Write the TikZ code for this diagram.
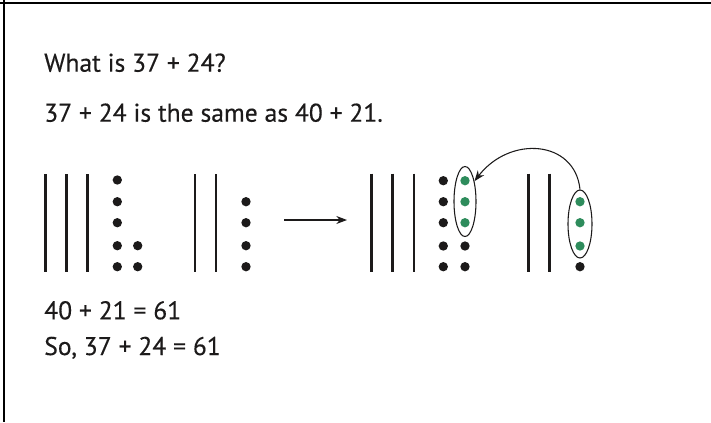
\documentclass[tikz,border=0pt]{standalone}
\usepackage{fontspec}
\setmainfont{PT Sans}[FakeBold=0.35]
\usetikzlibrary{arrows.meta,shapes.geometric}
\definecolor{dotgreen}{RGB}{46,140,92}
\definecolor{ink}{RGB}{28,26,26}
\tikzset{
  txt/.style={anchor=base west, inner sep=0pt, font=\fontsize{19.2}{22}\selectfont, text=ink},
  dotb/.style={circle, fill=ink, inner sep=0pt, minimum size=7pt},
  dotg/.style={circle, fill=dotgreen, inner sep=0pt, minimum size=7pt},
  ten/.style={line width=1.9pt, draw=ink},
  ring/.style={ellipse, draw=ink, line width=0.8pt, inner sep=0pt},
  arr/.style={draw=ink, line width=0.8pt, -{Stealth[length=8pt,width=6pt]}},
  frame/.style={line width=1.5pt, draw=black}
}
\begin{document}
\begin{tikzpicture}[x=0.75pt,y=-0.75pt]
\useasboundingbox (0,0) rectangle (711,422);
% frame
\coordinate (fTL) at (0,3);
\coordinate (fTR) at (711,3);
\coordinate (fLT) at (4,0);
\coordinate (fLB) at (4,422);
\draw[frame] (fTL) -- (fTR);
\draw[frame] (fLT) -- (fLB);
% texts
\node[txt] (q) at (44,71.7) {What is 37 + 24?};
\node[txt] (s) at (44,121.7) {37 + 24 is the same as 40 + 21.};
\node[txt] (r1) at (44,319.3) {40 + 21 = 61};
\node[txt] (r2) at (44,355) {So, 37 + 24 = 61};
% left group: 37
\foreach \x [count=\i] in {45.7,66.7,87.7}{
  \coordinate (at\i) at (\x,174);
  \coordinate (ab\i) at (\x,272);
  \draw[ten] (at\i) -- (ab\i);
}
\foreach \y [count=\i] in {180,201.7,222.7,245.7,266.7}{
  \node[dotb] (ad\i) at (117.3,\y) {};
}
\node[dotb] (ae4) at (137.7,245.7) {};
\node[dotb] (ae5) at (137.7,266.7) {};
% 24
\foreach \x [count=\i] in {195,216}{
  \coordinate (bt\i) at (\x,174);
  \coordinate (bb\i) at (\x,272);
  \draw[ten] (bt\i) -- (bb\i);
}
\foreach \y [count=\i] in {201.7,222.7,245.7,266.7}{
  \node[dotb] (bd\i) at (246,\y) {};
}
% arrow
\coordinate (m0) at (284,220);
\coordinate (m1) at (347,220);
\draw[arr] (m0) -- (m1);
% right: 40
\foreach \x [count=\i] in {371.7,392.7,414}{
  \coordinate (ct\i) at (\x,173.5);
  \coordinate (cb\i) at (\x,271.7);
  \draw[ten] (ct\i) -- (cb\i);
}
\foreach \y [count=\i] in {180.7,201.7,222.7,246,266.7}{
  \node[dotb] (cd\i) at (443.3,\y) {};
}
\node[dotg] (cg1) at (465,180.7) {};
\node[dotg] (cg2) at (465,201.7) {};
\node[dotg] (cg3) at (465,222.7) {};
\node[dotb] (ce4) at (465,246) {};
\node[dotb] (ce5) at (465,266.7) {};
\node[ring, minimum width=16.5pt, minimum height=52.5pt] (le) at (465,201.5) {};
% 21
\foreach \x [count=\i] in {528.3,549.3}{
  \coordinate (dt\i) at (\x,173.5);
  \coordinate (db\i) at (\x,271.7);
  \draw[ten] (dt\i) -- (db\i);
}
\node[dotg] (dg1) at (580,201.7) {};
\node[dotg] (dg2) at (580,222.7) {};
\node[dotg] (dg3) at (580,246) {};
\node[dotb] (dd4) at (580,266.7) {};
\node[ring, minimum width=18pt, minimum height=51pt] (re) at (580,224) {};
% curved arrow
\draw[arr] (re.north) .. controls (575,140) and (510,135) .. (le.65);
\end{tikzpicture}
\end{document}
